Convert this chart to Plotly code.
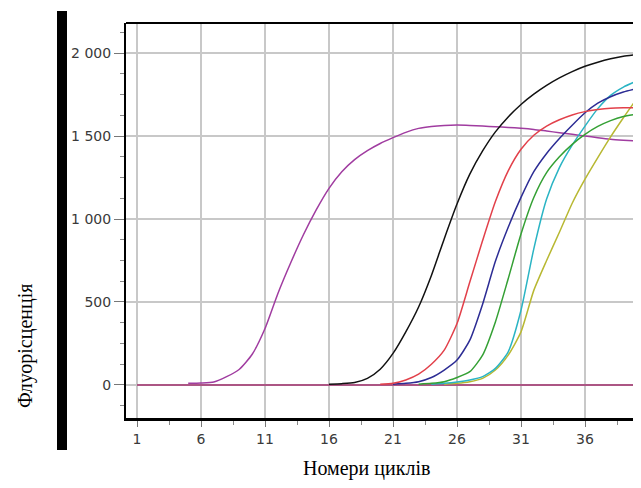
import plotly.graph_objects as go

# ---- data ----
cycles_purple = list(range(5, 41))
purple = [10, 12, 18, 50, 95, 185, 340, 550, 735, 905, 1055, 1185, 1285, 1358, 1412, 1455,
          1490, 1522, 1546, 1558, 1564, 1566, 1564, 1560, 1556, 1552, 1547, 1540, 1530, 1520,
          1510, 1500, 1490, 1481, 1475, 1470]

cycles_black = list(range(16, 41))
black = [5, 8, 15, 40, 95, 190, 320, 470, 660, 880, 1090, 1270, 1410, 1525, 1615, 1690, 1752,
         1805, 1850, 1888, 1920, 1945, 1965, 1980, 1990]

cycles_red = list(range(20, 41))
red = [5, 10, 30, 65, 125, 210, 370, 620, 870, 1105, 1290, 1420, 1505, 1560, 1598, 1627, 1647,
       1660, 1668, 1670, 1670]

cycles_blue = list(range(21, 41))
blue = [5, 10, 20, 45, 90, 150, 270, 487, 745, 950, 1130, 1285, 1395, 1485, 1565, 1640, 1698,
        1737, 1765, 1785]

cycles_green = list(range(23, 41))
green = [5, 10, 20, 45, 80, 180, 380, 640, 910, 1130, 1280, 1375, 1450, 1510, 1558, 1593, 1618, 1632]

cycles_cyan = list(range(24, 41))
cyan = [5, 10, 18, 30, 50, 100, 200, 450, 820, 1120, 1310, 1445, 1560, 1665, 1745, 1795, 1830]

cycles_yellow = list(range(25, 41))
yellow = [5, 10, 20, 40, 90, 180, 320, 570, 750, 920, 1095, 1240, 1370, 1495, 1610, 1720]

cycles_base = list(range(1, 41))
baseline = [0] * len(cycles_base)

x_tick_vals = [1, 6, 11, 16, 21, 26, 31, 36]
x_tick_text = ["1", "6", "11", "16", "21", "26", "31", "36"]
y_tick_vals = [0, 500, 1000, 1500, 2000]
y_tick_text = ["0", "500", "1 000", "1 500", "2 000"]

x_title = "Номери циклів"
y_title = "Флуорісценція"

series = [
    (cycles_base, baseline, "#a3306e"),
    (cycles_purple, purple, "#a03ca0"),
    (cycles_yellow, yellow, "#b8b832"),
    (cycles_cyan, cyan, "#2ab4c4"),
    (cycles_green, green, "#34a034"),
    (cycles_blue, blue, "#2c2c94"),
    (cycles_red, red, "#e2404a"),
    (cycles_black, black, "#111111"),
]

fig = go.Figure()
for xs, ys, col in series:
    fig.add_trace(go.Scatter(x=xs, y=ys, mode="lines",
                             line=dict(color=col, width=1.5, shape="spline", smoothing=0.6),
                             showlegend=False, hoverinfo="skip"))

# page is offset by the default 8px body margin
OFF = 8
W, H = 641 - OFF, 488 - OFF
L, R, T = 126 - OFF, 0, 23 - OFF
B = H - (418 - OFF)
pw, ph = W - L - R, H - T - B

def px(xp):
    return (xp - OFF - L) / pw

def py(yp):
    return (H - B - (yp - OFF)) / ph

tickfont = dict(family="DejaVu Sans", size=14, color="#3a3a3a")

fig.update_layout(
    width=W, height=H,
    margin=dict(l=L, r=R, t=T, b=B),
    paper_bgcolor="white", plot_bgcolor="white",
    xaxis=dict(range=[0.14, 40.375], tickmode="array", tickvals=x_tick_vals,
               ticktext=x_tick_text, showgrid=True, gridcolor="#c8c8c8", gridwidth=1.5,
               zeroline=False, showline=True, linecolor="black", linewidth=3,
               ticks="outside", ticklen=6, tickcolor="#777", tickwidth=1,
               minor=dict(dtick=2.5, tick0=1, ticks="outside", ticklen=4, tickcolor="#888",
                          showgrid=False),
               tickfont=tickfont, fixedrange=True),
    yaxis=dict(range=[-199, 2181], tickmode="array", tickvals=y_tick_vals,
               ticktext=y_tick_text, showgrid=True, gridcolor="#c8c8c8", gridwidth=1.5,
               zeroline=False, showline=True, linecolor="black", linewidth=2,
               ticks="outside", ticklen=10, tickcolor="#777", tickwidth=1,
               minor=dict(dtick=125, tick0=0, ticks="outside", ticklen=4, tickcolor="#888",
                          showgrid=False),
               tickfont=tickfont, fixedrange=True),
    shapes=[
        dict(type="line", xref="paper", yref="paper", x0=0, x1=1, y0=1, y1=1,
             line=dict(color="black", width=2)),
        dict(type="rect", xref="paper", yref="paper", x0=px(57), x1=px(67),
             y0=py(450), y1=py(11), fillcolor="black", line=dict(width=0)),
    ],
    annotations=[
        dict(text=x_title, xref="paper", yref="paper", x=px(366), y=py(468),
             xanchor="center", yanchor="middle", showarrow=False,
             font=dict(family="Liberation Serif", size=20, color="black")),
        dict(text=y_title, xref="paper", yref="paper", x=px(25), y=py(346),
             xanchor="center", yanchor="middle", showarrow=False, textangle=-90,
             font=dict(family="Liberation Serif", size=20, color="black")),
    ],
)

fig.write_html("out.html", config={"displayModeBar": False})
